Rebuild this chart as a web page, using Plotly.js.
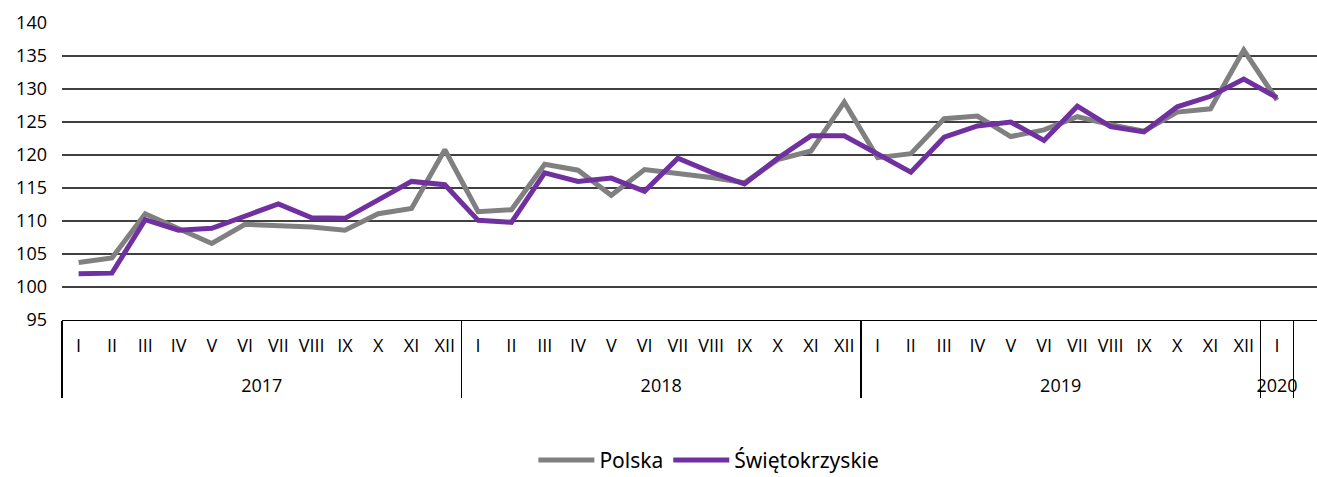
<!DOCTYPE html>
<html>
<head>
<meta charset="utf-8">
<script src="https://cdn.plot.ly/plotly-3.0.1.min.js"></script>
<style>html,body{margin:0;padding:0;background:#fff;}#chart{width:1317px;height:477px;}</style>
</head>
<body>
<div id="chart"></div>
<script>
const years = ["2017","2018","2019","2020"];
const monthsPerYear = [12, 12, 12, 1];
const monthLabels = ["I","II","III","IV","V","VI","VII","VIII","IX","X","XI","XII"];

const polska = [
  103.7, 104.4, 111.1, 108.9, 106.6, 109.5, 109.3, 109.1, 108.6, 111.1, 111.9, 120.8,
  111.4, 111.7, 118.6, 117.7, 113.9, 117.8, 117.2, 116.6, 115.8, 119.3, 120.6, 128.0,
  119.6, 120.2, 125.5, 125.9, 122.8, 123.8, 125.8, 124.6, 123.6, 126.5, 127.0, 135.9,
  128.3
];
const swietokrzyskie = [
  102.0, 102.1, 110.2, 108.6, 108.9, 110.7, 112.6, 110.5, 110.4, 113.2, 116.0, 115.5,
  110.1, 109.8, 117.3, 116.0, 116.5, 114.5, 119.5, 117.4, 115.6, 119.5, 122.9, 122.9,
  120.1, 117.4, 122.7, 124.4, 125.0, 122.2, 127.4, 124.3, 123.5, 127.3, 128.9, 131.5,
  128.7
];
const yTicks = [95, 100, 105, 110, 115, 120, 125, 130, 135, 140];

// year group label shown one line lower (display only)
const xYear = [], xMonth = [];
years.forEach((y, i) => {
  for (let m = 0; m < monthsPerYear[i]; m++) { xYear.push("<br>" + y); xMonth.push(monthLabels[m]); }
});

const font = "'Open Sans', 'DejaVu Sans', sans-serif";
const traces = [
  {x: [xYear, xMonth], y: polska, name: "Polska", type: "scatter", mode: "lines",
   line: {color: "#808080", width: 5, shape: "linear"}},
  {x: [xYear, xMonth], y: swietokrzyskie, name: "Świętokrzyskie", type: "scatter", mode: "lines",
   line: {color: "#7030A0", width: 5, shape: "linear"}}
];

const layout = {
  width: 1317, height: 477,
  margin: {l: 62, r: 0, t: 23, b: 157},
  paper_bgcolor: "#fff", plot_bgcolor: "#fff",
  font: {family: font, size: 18, color: "#000"},
  showlegend: true,
  legend: {orientation: "h", xref: "container", yref: "container", x: 0.405, y: 0.035,
           xanchor: "left", yanchor: "middle", itemwidth: 56,
           font: {family: "'Noto Sans', sans-serif", size: 21, color: "#000"},
           tracegroupgap: 0},
  xaxis: {
    type: "multicategory",
    range: [-0.5, 37.2],
    showgrid: false, zeroline: false,
    showline: true, linecolor: "#000", linewidth: 1.3,
    showdividers: true, dividercolor: "#000", dividerwidth: 1.3,
    ticks: "", ticklabelstandoff: 9, tickangle: 0,
    tickfont: {family: font, size: 18, color: "#000"}
  },
  yaxis: {
    range: [95, 140], tickvals: yTicks, ticktext: yTicks.map(String),
    showgrid: true, gridcolor: "#404040", gridwidth: 1.3,
    zeroline: false, showline: false, ticks: "",
    ticklabelstandoff: 14,
    tickfont: {family: font, size: 18, color: "#000"}
  }
};

Plotly.newPlot("chart", traces, layout, {displayModeBar: false, staticPlot: true});
</script>
</body>
</html>
